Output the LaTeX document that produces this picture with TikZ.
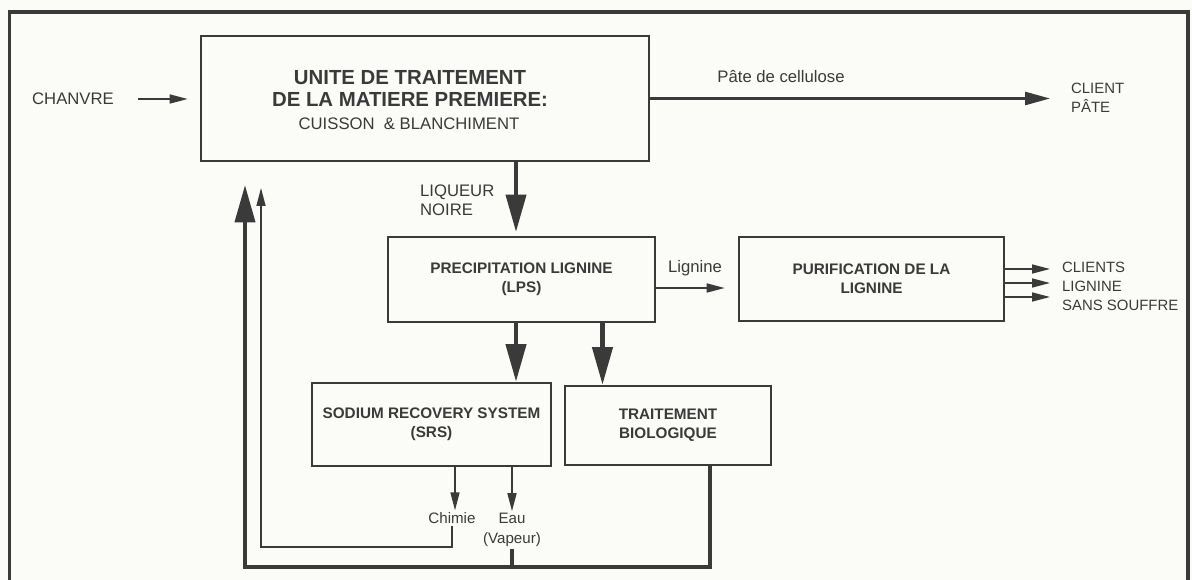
\documentclass[tikz,border=0pt]{standalone}
\usepackage{fontspec}
\setmainfont{Liberation Sans}
\usepackage{tikz}
\usetikzlibrary{arrows.meta}
\definecolor{ink}{HTML}{3A3A3A}
\definecolor{paper}{HTML}{FBFBF8}
\tikzstyle{box}=[rectangle, draw=ink, line width=1.5pt, inner sep=0pt, anchor=center, align=center, text=ink, font=\fontsize{8.7}{10.8}\selectfont\bfseries]
\tikzstyle{annot}=[align=left, inner sep=1pt, text=ink, font=\fontsize{9.5}{10.8}\selectfont]
\tikzstyle{small}=[align=center, inner sep=1pt, text=ink, font=\fontsize{8.6}{11.3}\selectfont]
\tikzstyle{bigarrow}=[draw=ink, line width=2.4pt, -{Triangle[length=0.75cm,width=0.4cm]}]
\tikzstyle{medarrow}=[draw=ink, line width=1.5pt, -{Triangle[length=0.5cm,width=0.26cm]}]
\tikzstyle{thinarrow}=[draw=ink, line width=0.9pt, -{Triangle[length=0.36cm,width=0.18cm]}]
\tikzstyle{thinline}=[draw=ink, line width=0.9pt]
\tikzstyle{thickline}=[draw=ink, line width=2.4pt]

\begin{document}
\begin{tikzpicture}[x=0.02cm, y=-0.02cm]
	\useasboundingbox[fill=paper] (0,0) rectangle (1192,580);
	\draw[draw=ink, line width=2.2pt] (9.5,580) -- (9.5,12) -- (1188,12) -- (1188,580);

	% boxes
	\node[box, minimum width=448*0.02cm, minimum height=125*0.02cm](unite) at (425,98.5){};
	\node[annot, align=center, font=\fontsize{11.6}{12}\selectfont\bfseries](unitetxt) at (410,88.5){UNITE DE TRAITEMENT\\DE LA MATIERE PREMIERE:};
	\node[annot](cuisson) at (409,124){CUISSON \ \& BLANCHIMENT};
	\node[box, minimum width=267*0.02cm, minimum height=85*0.02cm](lps) at (521.5,279.5){PRECIPITATION LIGNINE\\(LPS)};
	\node[box, minimum width=265*0.02cm, minimum height=84*0.02cm](purif) at (871.5,279){PURIFICATION DE LA\\LIGNINE};
	\node[box, minimum width=239*0.02cm, minimum height=83*0.02cm](srs) at (431.5,424.5){SODIUM RECOVERY SYSTEM\\(SRS)};
	\node[box, minimum width=206*0.02cm, minimum height=79*0.02cm](bio) at (668,425.5){TRAITEMENT\\BIOLOGIQUE};

	% labels
	\node[annot](chanvre) at (73,99){CHANVRE};
	\node[annot](pate) at (781,77){P\^ate de cellulose};
	\node[annot, anchor=west, font=\fontsize{8.5}{10.8}\selectfont](client) at (1069,98){CLIENT\\P\^ATE};
	\node[annot, anchor=west](liqueur) at (418,200){LIQUEUR\\NOIRE};
	\node[annot](lignine) at (695,268){Lignine};
	\node[annot, anchor=west, font=\fontsize{8.5}{10.8}\selectfont](clients) at (1060,286){CLIENTS\\LIGNINE\\SANS SOUFFRE};
	\node[small](chimie) at (452,518){Chimie};
	\node[small](eau) at (512,530){Eau\\(Vapeur)};

	\coordinate (liqtip) at (516,232);
	\coordinate (thintip) at (261,188);
	\coordinate (thinbot) at (261,547);
	\coordinate (thicktip) at (245,185);
	\coordinate (thickbot) at (245,567);

	% flows
	\draw[thinarrow, shorten <=0.44cm, shorten >=0.24cm] (chanvre.east) -- (chanvre.east -| unite.west);
	\draw[medarrow, shorten >=0.38cm] (unite.east) -- (unite.east -| client.west);
	\draw[bigarrow] (unite.south -| liqtip) -- (liqtip);
	\draw[thinarrow, shorten >=0.26cm] ([yshift=-0.17cm]lps.east) -- ([yshift=-0.17cm]lps.east -| purif.west);
	\foreach \dy in {-10,4,18}
		\draw[thinarrow, shorten >=0.2cm] ([yshift=-\dy*0.02cm]purif.east) -- ([yshift=-\dy*0.02cm]purif.east -| clients.west);
	\draw[bigarrow] (lps.south -| liqtip) -- (srs.north -| liqtip);
	\draw[bigarrow] ([xshift=1.62cm]lps.south) -- ([xshift=1.62cm]lps.south |- bio.north);
	\draw[thinarrow] (srs.south -| 455,0) -- (chimie.north -| 455,0);
	\draw[thinarrow] (srs.south -| eau) -- (eau.north);

	% recycling
	\draw[thinarrow] (chimie.south) |- (thinbot) -- (thintip);
	\draw[bigarrow] ([xshift=0.84cm]bio.south) |- (thickbot) -- (thicktip);
	\draw[thickline] (eau.south) -- (eau.south |- thickbot);
\end{tikzpicture}
\end{document}
